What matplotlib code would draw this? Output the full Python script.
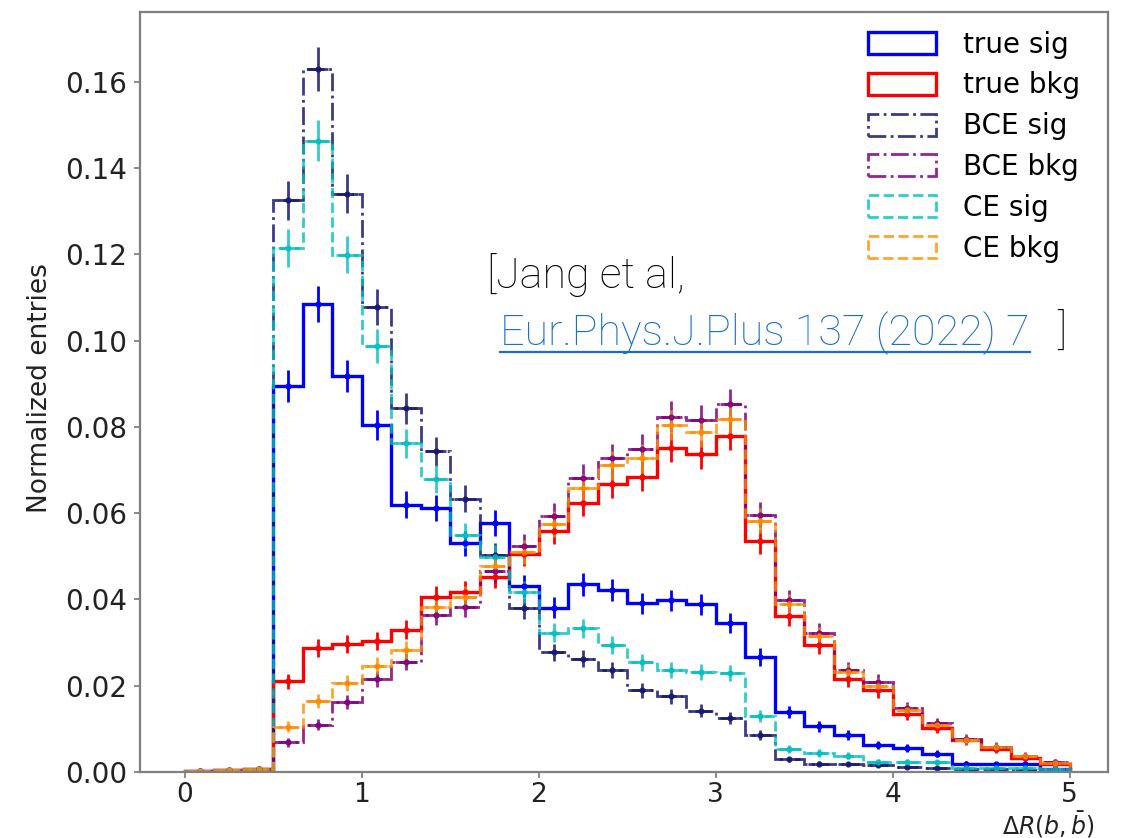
import numpy as np
import matplotlib
matplotlib.use("Agg")
import matplotlib.pyplot as plt
from matplotlib.lines import Line2D

# Binning: 30 equal bins of Delta R between 0 and 5
bin_edges = np.linspace(0.0, 5.0, 31)

# Normalized bin contents (each sums to ~1)
true_sig = [0.0002, 0.0004, 0.0008, 0.0894, 0.1085, 0.0918, 0.0804, 0.0620,
            0.0612, 0.0530, 0.0577, 0.0431, 0.0381, 0.0435, 0.0422, 0.0391,
            0.0398, 0.0389, 0.0346, 0.0267, 0.0139, 0.0106, 0.0085, 0.0062,
            0.0056, 0.0042, 0.0019, 0.0018, 0.0019, 0.0008]
true_bkg = [0.0003, 0.0005, 0.0006, 0.0210, 0.0287, 0.0296, 0.0304, 0.0330,
            0.0406, 0.0418, 0.0453, 0.0506, 0.0558, 0.0624, 0.0667, 0.0684,
            0.0752, 0.0737, 0.0780, 0.0535, 0.0362, 0.0295, 0.0216, 0.0189,
            0.0135, 0.0102, 0.0073, 0.0054, 0.0032, 0.0019]
bce_sig = [0.0002, 0.0003, 0.0006, 0.1326, 0.1630, 0.1341, 0.1078, 0.0843,
           0.0743, 0.0633, 0.0504, 0.0379, 0.0277, 0.0263, 0.0236, 0.0189,
           0.0175, 0.0142, 0.0125, 0.0085, 0.0029, 0.0019, 0.0018, 0.0017,
           0.0012, 0.0010, 0.0008, 0.0006, 0.0004, 0.0003]
bce_bkg = [0.0003, 0.0004, 0.0006, 0.0069, 0.0110, 0.0162, 0.0216, 0.0256,
           0.0364, 0.0383, 0.0465, 0.0523, 0.0593, 0.0681, 0.0727, 0.0749,
           0.0824, 0.0816, 0.0852, 0.0596, 0.0398, 0.0323, 0.0236, 0.0209,
           0.0148, 0.0113, 0.0077, 0.0059, 0.0038, 0.0023]
ce_sig = [0.0002, 0.0004, 0.0008, 0.1215, 0.1463, 0.1199, 0.0987, 0.0762,
          0.0680, 0.0549, 0.0499, 0.0418, 0.0323, 0.0333, 0.0294, 0.0254,
          0.0237, 0.0232, 0.0229, 0.0129, 0.0054, 0.0044, 0.0038, 0.0023,
          0.0023, 0.0022, 0.0010, 0.0010, 0.0010, 0.0008]
ce_bkg = [0.0003, 0.0005, 0.0006, 0.0105, 0.0164, 0.0206, 0.0246, 0.0282,
          0.0383, 0.0406, 0.0477, 0.0510, 0.0575, 0.0658, 0.0711, 0.0727,
          0.0804, 0.0789, 0.0818, 0.0583, 0.0389, 0.0315, 0.0231, 0.0200,
          0.0143, 0.0108, 0.0075, 0.0058, 0.0036, 0.0021]

series_labels = ["true sig", "true bkg", "BCE sig", "BCE bkg", "CE sig", "CE bkg"]
x_ticks = [0, 1, 2, 3, 4, 5]
y_ticks = [0.00, 0.02, 0.04, 0.06, 0.08, 0.10, 0.12, 0.14, 0.16]

# Events per sample, used for the Poisson uncertainty of each normalized bin
n_events = 6500

series = [
    (true_sig, "blue", "-", 2.4, 1.0),
    (true_bkg, "red", "-", 2.4, 1.0),
    (bce_sig, "midnightblue", "-.", 2.0, 0.85),
    (bce_bkg, "purple", "-.", 2.0, 0.85),
    (ce_sig, "c", "--", 2.0, 0.8),
    (ce_bkg, "darkorange", "--", 2.0, 0.8),
]

W, H = 1129, 838
fig = plt.figure(figsize=(W / 100, H / 100), dpi=100)
ax = fig.add_axes([0.124, 0.0788, 0.857, 0.9069])

centers = 0.5 * (bin_edges[:-1] + bin_edges[1:])
width = bin_edges[1] - bin_edges[0]

for (vals, color, ls, lw, alpha), label in zip(series, series_labels):
    vals = np.asarray(vals)
    ax.hist(centers, bins=bin_edges, weights=vals, histtype="step",
            color=color, linestyle=ls, linewidth=lw, alpha=alpha, label=label)
    err = np.sqrt(vals / n_events)
    ax.errorbar(centers, vals, yerr=err, xerr=0.36 * width, fmt=".",
                color=color, ms=7, elinewidth=2.0, capsize=0, alpha=alpha)

ax.set_xlim(-0.254, 5.215)
ax.set_ylim(0.0, 0.1762)
ax.set_xticks(x_ticks)
ax.set_yticks(y_ticks)
ax.yaxis.set_major_formatter(matplotlib.ticker.FormatStrFormatter("%.2f"))
ax.tick_params(labelsize=20, length=4, width=1.2, color="#777777",
               labelcolor="#222222", pad=5)
ax.tick_params(axis="x", labelsize=19, pad=3)
for sp in ax.spines.values():
    sp.set_color("#808080")
    sp.set_linewidth(1.6)

ax.set_ylabel("Normalized entries", fontsize=19, color="#222222")
ax.yaxis.set_label_coords(-0.09, 0.505)
ax.set_xlabel(r"$\Delta R(b,\bar{b})$", fontsize=17, color="#222222", loc="right")

leg = ax.legend(loc="upper right", frameon=False, fontsize=20,
                handlelength=2.45, handleheight=0.85, labelspacing=0.46,
                handletextpad=0.95, borderaxespad=0.0,
                bbox_to_anchor=(0.983, 0.99))

# Reference note
ref_font = dict(family=["Roboto", "DejaVu Sans"], fontweight="light", fontsize=31)
fig.text(0.4314, 0.6563, "[Jang et al,", color="black",
         ha="left", va="baseline", **ref_font)
link_y = 0.5885
link = fig.text(0.443, link_y, "Eur.Phys.J.Plus 137 (2022) 7", color="#1a6ec8",
                ha="left", va="baseline", **ref_font)
fig.text(0.936, link_y, "]", color="black", ha="left", va="baseline", **ref_font)

# Place the x label just below the tick labels, at the right end of the axis
fig.canvas.draw()
renderer = fig.canvas.get_renderer()
tick_bottom = min(t.get_window_extent(renderer).y0
                  for t in ax.get_xticklabels() if t.get_text())
ax_bb = ax.get_window_extent(renderer)
ax.xaxis.label.set_va("top")
ax.xaxis.set_label_coords(0.987, (tick_bottom - 1 - ax_bb.y0) / ax_bb.height)

bb = link.get_window_extent(renderer).transformed(fig.transFigure.inverted())
fig.add_artist(Line2D([bb.x0, bb.x1], [link_y - 0.009, link_y - 0.009],
                      transform=fig.transFigure, color="#1a6ec8", lw=1.6))

fig.savefig("out.png", dpi=100)
